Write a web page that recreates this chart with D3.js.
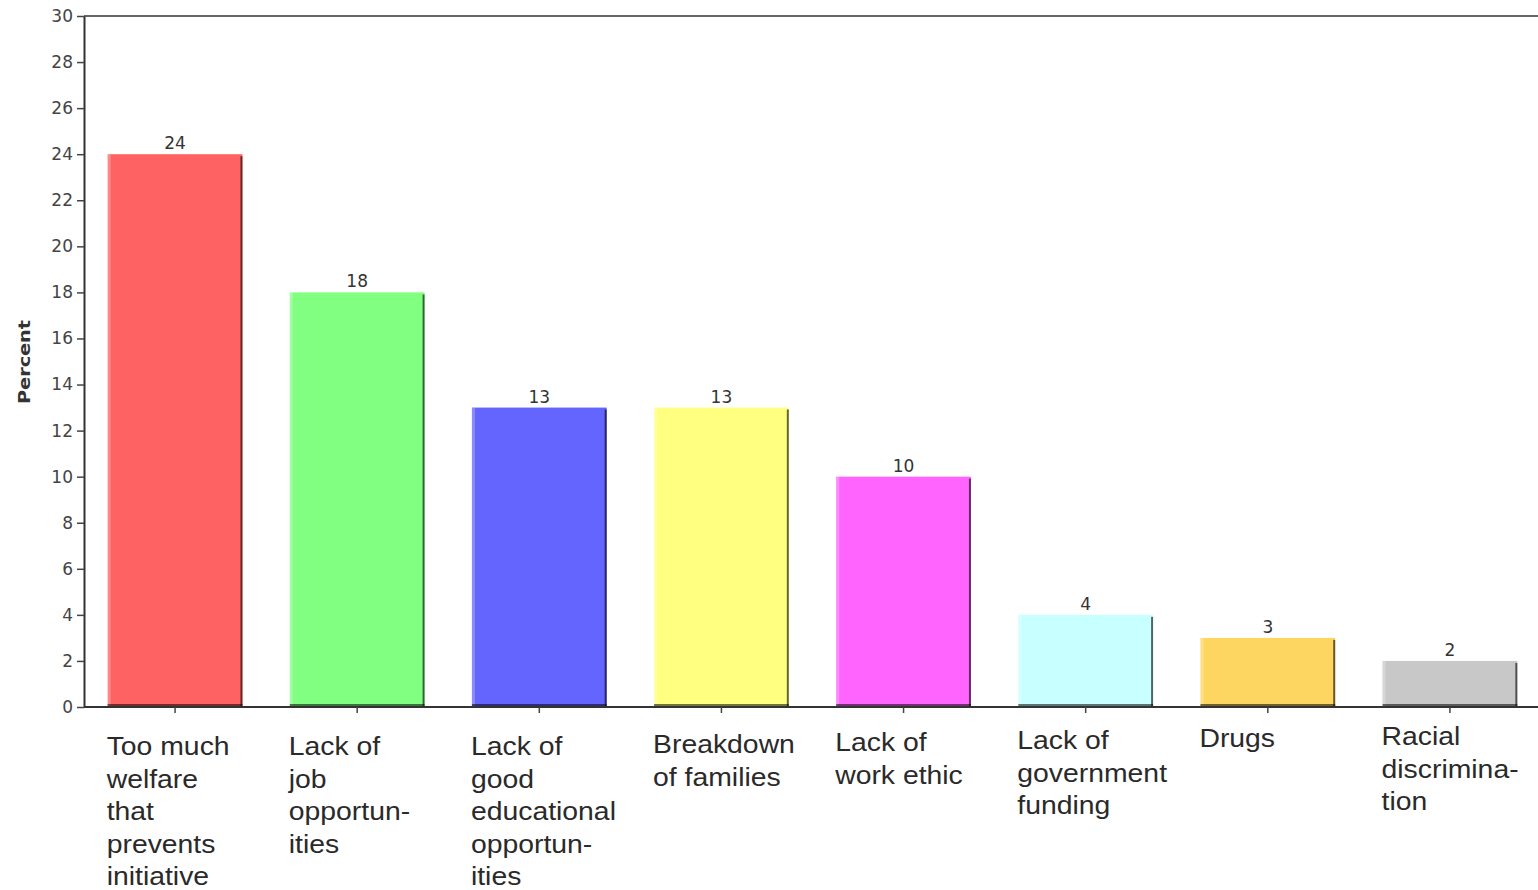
<!DOCTYPE html>
<html>
<head>
<meta charset="utf-8">
<script src="https://cdn.jsdelivr.net/npm/d3@7"></script>
<style>
  html, body { margin: 0; padding: 0; background: #fff; }
  svg { display: block; }
</style>
</head>
<body>
<svg id="chart" width="1538" height="890"></svg>
<script>
const categories = [
  ["Too much", "welfare", "that", "prevents", "initiative"],
  ["Lack of", "job", "opportun-", "ities"],
  ["Lack of", "good", "educational", "opportun-", "ities"],
  ["Breakdown", "of families"],
  ["Lack of", "work ethic"],
  ["Lack of", "government", "funding"],
  ["Drugs"],
  ["Racial", "discrimina-", "tion"]
];
const values = [24, 18, 13, 13, 10, 4, 3, 2];
const barColors = ["#ff6262", "#80ff80", "#6464ff", "#ffff80", "#ff64ff", "#c8ffff", "#fdd662", "#c8c8c8"];
const yTicks = [0, 2, 4, 6, 8, 10, 12, 14, 16, 18, 20, 22, 24, 26, 28, 30];
const yTitle = "Percent";

(function () {
const svg = d3.select("#chart");
const mLeft = 84, mRight = 1541, mTop = 16, mBottom = 707;

const x = d3.scaleBand()
  .domain(d3.range(values.length))
  .range([mLeft, mRight])
  .paddingInner(0.26)
  .paddingOuter(0.13);

const y = d3.scaleLinear().domain([0, 30]).range([mBottom, mTop]);

// top frame line
svg.append("line")
  .attr("x1", mLeft).attr("x2", 1538)
  .attr("y1", mTop).attr("y2", mTop)
  .attr("stroke", "#666").attr("stroke-width", 2);

// bars
const bars = svg.append("g");
values.forEach((v, i) => {
  const bx = x(i), bw = x.bandwidth(), by = y(v);
  bars.append("rect")
    .attr("x", bx).attr("y", by)
    .attr("width", bw).attr("height", mBottom - by)
    .attr("fill", barColors[i]);
  bars.append("rect")
    .attr("x", bx).attr("y", by)
    .attr("width", 3).attr("height", mBottom - by)
    .attr("fill", "#fff").attr("opacity", 0.25);
  bars.append("line")
    .attr("x1", bx + bw - 1).attr("x2", bx + bw - 1)
    .attr("y1", by + 2).attr("y2", mBottom)
    .attr("stroke", "#000").attr("stroke-opacity", 0.6).attr("stroke-width", 2);
  bars.append("line")
    .attr("x1", bx).attr("x2", bx + bw)
    .attr("y1", mBottom - 1.5).attr("y2", mBottom - 1.5)
    .attr("stroke", "#000").attr("stroke-opacity", 0.55).attr("stroke-width", 3);
  bars.append("text")
    .attr("x", bx + bw / 2).attr("y", by - 5)
    .attr("text-anchor", "middle")
    .attr("font-family", "DejaVu Sans, sans-serif")
    .attr("font-size", 17)
    .attr("fill", "#333")
    .text(v);
});

// y axis
const yAxis = d3.axisLeft(y).tickValues(yTicks).tickSize(7).tickPadding(4).tickSizeOuter(0);
const gy = svg.append("g").attr("transform", `translate(${mLeft},0)`).call(yAxis);
gy.select(".domain").attr("stroke", "#333").attr("stroke-width", 2);
gy.selectAll(".tick line").attr("stroke", "#444").attr("stroke-width", 1.5);
gy.selectAll(".tick text")
  .attr("font-family", "DejaVu Sans, sans-serif")
  .attr("font-size", 17)
  .attr("fill", "#444");

// x axis
const xAxis = d3.axisBottom(x).tickSize(6).tickFormat("").tickSizeOuter(0);
const gx = svg.append("g").attr("transform", `translate(0,${mBottom})`).call(xAxis);
gx.select(".domain").attr("d", `M${mLeft},0H1538`).attr("stroke", "#333").attr("stroke-width", 2);
gx.selectAll(".tick line").attr("stroke", "#444").attr("stroke-width", 1.5);

// category labels
categories.forEach((lines, i) => {
  const baseY = 755 - Math.max(0, i - 2) * 2;
  const g = svg.append("g")
    .attr("transform", `translate(${x(i) - 1},${baseY}) scale(1.07,1)`);
  const t = g.append("text")
    .attr("font-family", "'Liberation Sans', Arial, sans-serif")
    .attr("font-size", 26.5)
    .attr("fill", "#2a2a2a");
  lines.forEach((ln, j) => {
    t.append("tspan").attr("x", 0).attr("y", j * 32.6).text(ln);
  });
});

// y title
svg.append("text")
  .attr("transform", `translate(30,362) rotate(-90)`)
  .attr("text-anchor", "middle")
  .attr("font-family", "DejaVu Sans, sans-serif")
  .attr("font-weight", "bold")
  .attr("font-size", 16)
  .attr("textLength", 84)
  .attr("lengthAdjust", "spacingAndGlyphs")
  .attr("fill", "#333")
  .text(yTitle);
})();
</script>
</body>
</html>
